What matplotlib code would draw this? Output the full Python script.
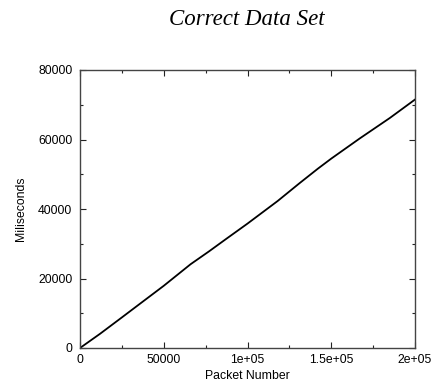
import matplotlib
matplotlib.use("Agg")
import matplotlib.pyplot as plt
from matplotlib.ticker import MultipleLocator

packets = [0, 12000, 25000, 39000, 50000, 66000, 77000, 87000, 100000, 118000,
           131000, 142000, 150000, 167000, 185000, 200000]
millis = [0, 4100, 8800, 13900, 17900, 24100, 27800, 31300, 35800, 42300,
          47400, 51600, 54500, 60300, 66200, 71500]

xticks = [0, 50000, 100000, 150000, 200000]
xticklabels = ["0", "50000", "1e+05", "1.5e+05", "2e+05"]
yticks = [0, 20000, 40000, 60000, 80000]
yticklabels = ["0", "20000", "40000", "60000", "80000"]

fig = plt.figure(figsize=(4.36, 3.89), dpi=100)
ax = fig.add_axes([80/436, 41/389, 335/436, 278/389])
ax.plot(packets, millis, color="black", lw=1.3)
ax.set_xlim(0, 200000)
ax.set_ylim(0, 80000)
ax.set_xticks(xticks)
ax.set_xticklabels(xticklabels)
ax.set_yticks(yticks)
ax.set_yticklabels(yticklabels)
ax.xaxis.set_minor_locator(MultipleLocator(25000))
ax.yaxis.set_minor_locator(MultipleLocator(10000))
ax.tick_params(which="both", direction="in", top=True, right=True,
               labelsize=8.8, colors="#222222", width=0.8)
ax.tick_params(axis="y", which="major", length=4, pad=5.5)
ax.tick_params(axis="x", which="major", length=4, pad=4)
ax.tick_params(which="minor", length=2)
for lab in ax.get_xticklabels() + ax.get_yticklabels():
    lab.set_family("Liberation Sans")
    lab.set_color("black")
for s in ax.spines.values():
    s.set_color("#444444")
    s.set_linewidth(1.0)
ax.set_xlabel("Packet Number", fontsize=8.8, family="Liberation Sans", labelpad=3)
ax.set_ylabel("Miliseconds", fontsize=8.8, family="Liberation Sans", labelpad=8)
fig.text(247/436, 1 - 25/389, "Correct Data Set", ha="center", va="baseline",
         fontsize=16.5, family="Liberation Serif", style="italic")
fig.savefig("out.png", dpi=100)
